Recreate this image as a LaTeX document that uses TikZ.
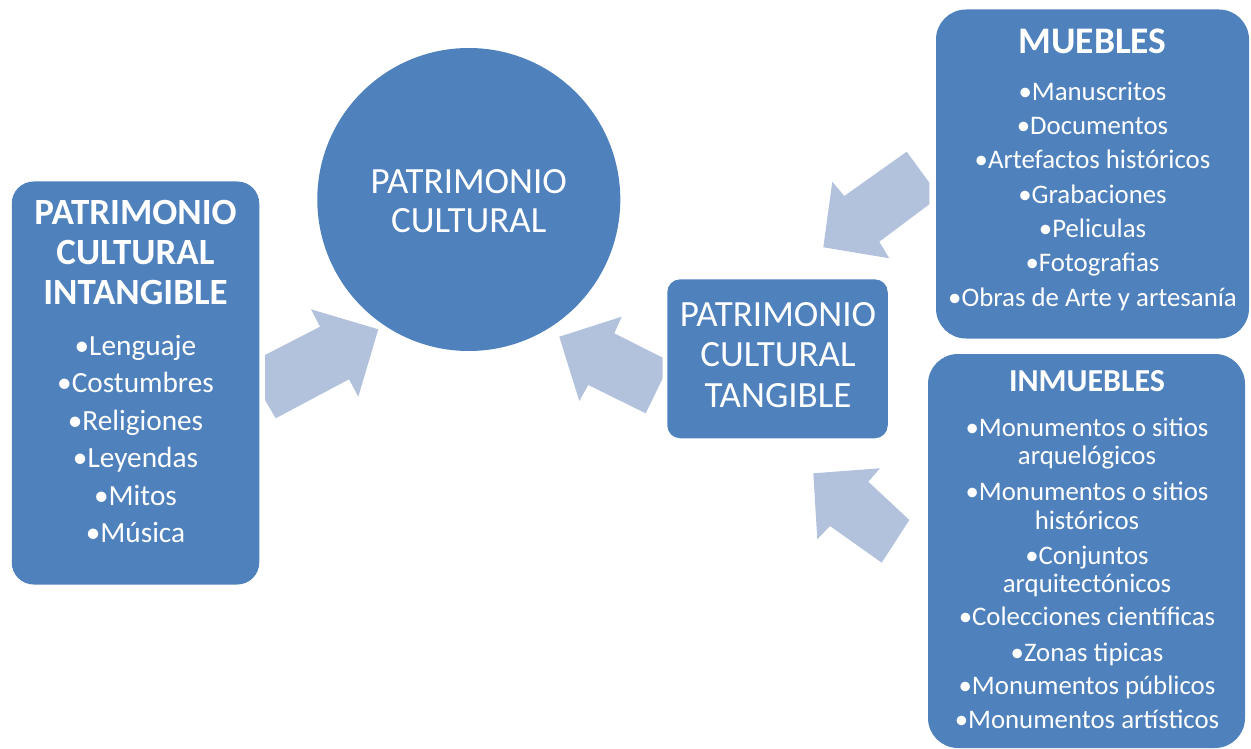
\documentclass[tikz,border=0pt]{standalone}
\usepackage{fontspec}
\setmainfont{Carlito}
\definecolor{boxblue}{HTML}{4F81BD}
\definecolor{arrowblue}{HTML}{B2C1DC}
\begin{document}
\begin{tikzpicture}[x=1pt,y=-1pt,
  box/.style={rectangle, fill=boxblue, draw=none, inner sep=0pt},
  blockarrow/.style={fill=arrowblue, draw=none},
  bigtxt/.style={anchor=base, text=white, inner sep=0pt, font=\fontsize{37}{40}\selectfont},
  ttlA/.style={anchor=base, text=white, inner sep=0pt, font=\fontsize{37}{40}\selectfont\bfseries},
  ttlB/.style={anchor=base, text=white, inner sep=0pt, font=\fontsize{32}{36}\selectfont\bfseries},
  lstA/.style={anchor=base, text=white, inner sep=0pt, font=\fontsize{29.3}{32}\selectfont},
  lstB/.style={anchor=base, text=white, inner sep=0pt, font=\fontsize{26.8}{30}\selectfont}]
\useasboundingbox (0,0) rectangle (1251,749);

% shapes
\node[box, rounded corners=22pt, minimum width=247.5pt, minimum height=403pt] (intang) at (135.5,383) {};
\node[circle, fill=boxblue, inner sep=0pt, minimum size=303pt] (pc) at (468.8,199.5) {};
\node[box, rounded corners=13pt, minimum width=220.5pt, minimum height=159pt] (tang) at (777.5,358.8) {};
\node[box, rounded corners=30pt, minimum width=313pt, minimum height=329pt] (mueb) at (1092.5,174) {};
\node[box, rounded corners=30pt, minimum width=317pt, minimum height=394pt] (inmueb) at (1086.5,551) {};

% block arrows
\fill[blockarrow] (265,355) -- (320,326.7) -- (311,309.3) -- (378.3,329.3) -- (358.3,396.7) -- (349,379.3) -- (275.7,418.3) -- (265,400) -- cycle;
\fill[blockarrow] (559.3,336.7) -- (621.7,316.7) -- (614.3,333.3) -- (662.7,357.7) -- (662.7,378.3) -- (645.7,413.3) -- (588.3,385) -- (579.3,401) -- cycle;
\fill[blockarrow] (823.3,247.3) -- (832.3,181.7) -- (844.3,196) -- (906.7,151.7) -- (929.3,182.7) -- (929.3,204.3) -- (879.3,241.7) -- (889.3,258.3) -- cycle;
\fill[blockarrow] (813.3,473.3) -- (880,468.3) -- (868.3,481.7) -- (909.3,520) -- (881.7,562.7) -- (830,526) -- (817.3,539.3) -- cycle;

% circle text
\node[bigtxt] (pc1) at (468.8,193.3) {PATRIMONIO};
\node[bigtxt] (pc2) at (468.8,232.7) {CULTURAL};

% tangible text
\node[bigtxt] (tg1) at (778,326.7) {PATRIMONIO};
\node[bigtxt] (tg2) at (778,366.7) {CULTURAL};
\node[bigtxt] (tg3) at (778,407.3) {TANGIBLE};

% intangible
\node[ttlA] (it1) at (135.5,224) {PATRIMONIO};
\node[ttlA] (it2) at (135.5,264.3) {CULTURAL};
\node[ttlA] (it3) at (135.5,304.3) {INTANGIBLE};
\foreach \t/\y [count=\i] in {•Lenguaje/355, •Costumbres/392.7, •Religiones/430, •Leyendas/467.7, •Mitos/505, •Música/542.7}
  \node[lstA] (il\i) at (135.5,\y) {\t};

% muebles
\node[ttlA, font=\fontsize{37.5}{40}\selectfont\bfseries] (mt) at (1092.5,53.3) {MUEBLES};
\foreach \t/\y [count=\i] in {•Manuscritos/101, •Documentos/134.8, •Artefactos históricos/169, •Grabaciones/203.3, •Peliculas/237.3, •Fotografias/271.7, •Obras de Arte y artesanía/306}
  \node[lstB] (ml\i) at (1092.5,\y) {\t};

% inmuebles
\node[ttlB] (imt) at (1087,391.7) {INMUEBLES};
\foreach \t/\y [count=\i] in {•Monumentos o sitios/436.7, arquelógicos/464.7, •Monumentos o sitios/500, históricos/529, •Conjuntos/564, arquitectónicos/592.3, •Colecciones científicas/625.7, •Zonas tipicas/661.3, •Monumentos públicos/694, •Monumentos artísticos/728.3}
  \node[lstB] (iml\i) at (1087,\y) {\t};
\end{tikzpicture}
\end{document}
